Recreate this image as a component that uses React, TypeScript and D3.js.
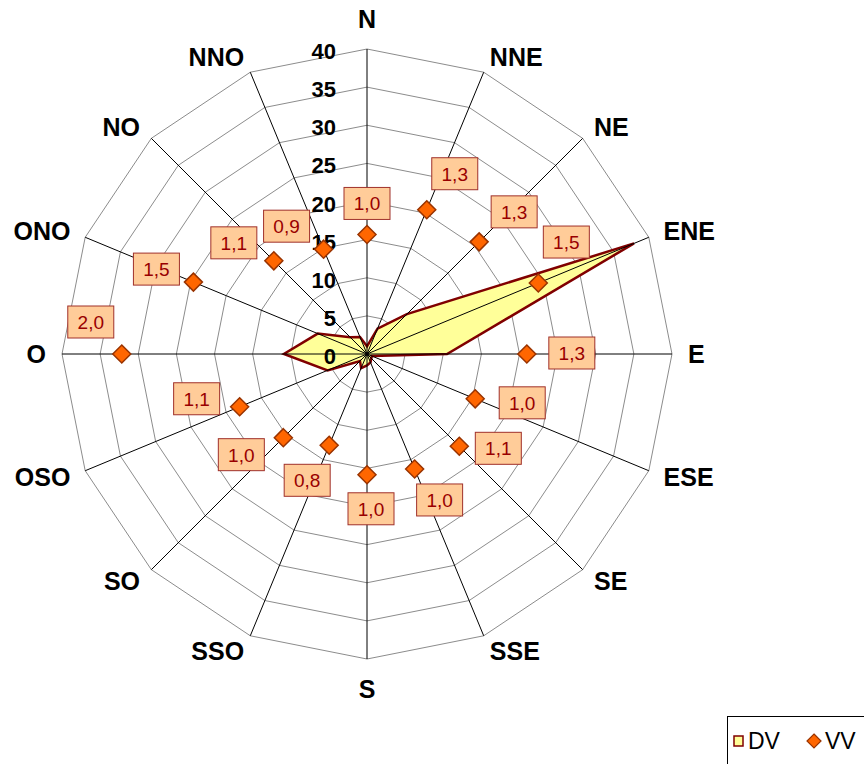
import React from "react";
import * as d3 from "d3";

const directions = ["N", "NNE", "NE", "ENE", "E", "ESE", "SE", "SSE", "S", "SSO", "SO", "OSO", "O", "ONO", "NO", "NNO"];
const dvValues = [1.0, 3.6, 7.4, 37.9, 10.5, 0.7, 0.8, 1.2, 1.5, 2.0, 1.3, 5.6, 10.9, 7.0, 3.1, 2.4];
const vvValues = [0.98, 1.28, 1.3, 1.52, 1.31, 0.96, 1.07, 1.02, 0.99, 0.81, 0.97, 1.13, 2.01, 1.54, 1.08, 0.93];
const dvTicks = [0, 5, 10, 15, 20, 25, 30, 35, 40];
const legendItems = ["DV", "VV"];

// layout: data label box offsets relative to each VV marker
const labelOffsets: [number, number][] = [
  [0, -31], [28, -36], [35, -30], [28, -41], [45, -1], [47, 4], [39, 2], [25, 31],
  [4, 34], [-22, 35], [-42, 17], [-43, -8], [-31, -32], [-37, -13], [-40, -18], [-37, -23],
];

const W = 864;
const H = 764;
const cx = 367;
const cy = 354;
const R = 305;
const FONT = "Arial, 'Liberation Sans', sans-serif";

export default function App() {
  const rDV = d3.scaleLinear().domain([0, 40]).range([0, R]);
  const rVV = d3.scaleLinear().domain([0, 2.5]).range([0, R]);
  const ang = d3.scaleLinear().domain([0, directions.length]).range([0, 2 * Math.PI]);

  const ring = d3
    .lineRadial<number>()
    .angle((_, i) => ang(i))
    .radius((d) => d)
    .curve(d3.curveLinearClosed);

  const dvLine = d3
    .lineRadial<number>()
    .angle((_, i) => ang(i))
    .radius((d) => rDV(d))
    .curve(d3.curveLinearClosed);

  const pt = (i: number, r: number): [number, number] => [
    cx + Math.sin(ang(i)) * r,
    cy - Math.cos(ang(i)) * r,
  ];

  const fmt = (v: number) => v.toFixed(1).replace(".", ",");
  const dirFont = 25;
  const anchorR = R + 16;

  return (
    <svg width={W} height={H} style={{ position: "absolute", left: 0, top: 0, background: "#fff" }}>
      <rect x={0} y={0} width={W} height={H} fill="#fff" />
      {/* grid rings */}
      <g transform={`translate(${cx},${cy})`}>
        {dvTicks.slice(1).map((t) => (
          <path
            key={t}
            d={ring(directions.map(() => rDV(t))) || ""}
            fill="none"
            stroke="#8c8c8c"
            strokeWidth={1}
          />
        ))}
        {/* DV polygon */}
        <path d={dvLine(dvValues) || ""} fill="#FFFF99" stroke="#800000" strokeWidth={2.5} strokeLinejoin="miter" />
      </g>
      {/* spokes */}
      {directions.map((d, i) => {
        const [x, y] = pt(i, R);
        return <line key={d} x1={cx} y1={cy} x2={x} y2={y} stroke="#000" strokeWidth={1} />;
      })}
      {/* tick labels */}
      {dvTicks.map((t) => (
        <text
          key={t}
          x={cx - 31}
          y={cy - rDV(t) + 10}
          textAnchor="end"
          fontFamily={FONT}
          fontWeight="bold"
          fontSize={22}
          fill="#000"
        >
          {t}
        </text>
      ))}
      {/* direction labels */}
      {directions.map((d, i) => {
        const s = Math.sin(ang(i));
        const c = Math.cos(ang(i));
        const [ax, ay] = pt(i, anchorR);
        let anchor: "start" | "end" | "middle" = "middle";
        if (s > 0.01) anchor = "start";
        else if (s < -0.01) anchor = "end";
        let y = ay + dirFont * 0.358;
        if (Math.abs(s) <= 0.01) {
          y = c > 0 ? ay - dirFont * 0.21 : ay + dirFont * 0.905;
        }
        return (
          <text
            key={d}
            x={ax}
            y={y}
            textAnchor={anchor}
            fontFamily={FONT}
            fontWeight="bold"
            fontSize={dirFont}
            fill="#000"
          >
            {d}
          </text>
        );
      })}
      {/* VV markers */}
      {vvValues.map((v, i) => {
        const [x, y] = pt(i, rVV(v));
        const h = 9;
        return (
          <path
            key={i}
            d={`M${x},${y - h}L${x + h},${y}L${x},${y + h}L${x - h},${y}Z`}
            fill="#FF6600"
            stroke="#993300"
            strokeWidth={1.5}
          />
        );
      })}
      {/* data labels */}
      {vvValues.map((v, i) => {
        const [x, y] = pt(i, rVV(v));
        const lx = x + labelOffsets[i][0];
        const ly = y + labelOffsets[i][1];
        return (
          <g key={i}>
            <rect x={lx - 23} y={ly - 16} width={46} height={32} fill="#FFCC99" stroke="#A0302A" strokeWidth={1} />
            <text
              x={lx}
              y={ly + 7}
              textAnchor="middle"
              fontFamily={FONT}
              fontSize={19}
              fill="#990000"
            >
              {fmt(v)}
            </text>
          </g>
        );
      })}
      {/* legend */}
      <rect x={727.5} y={716.5} width={145} height={60} fill="#fff" stroke="#000" strokeWidth={1} />
      <rect x={734} y={736} width={9} height={10} fill="#FFFF99" stroke="#800000" strokeWidth={1.5} />
      <text x={748} y={749} fontFamily={FONT} fontSize={23} fill="#000">
        {legendItems[0]}
      </text>
      <path d={`M814,734L821,741L814,748L807,741Z`} fill="#FF6600" stroke="#993300" strokeWidth={1.2} />
      <text x={825} y={749} fontFamily={FONT} fontSize={23} fill="#000">
        {legendItems[1]}
      </text>
    </svg>
  );
}
